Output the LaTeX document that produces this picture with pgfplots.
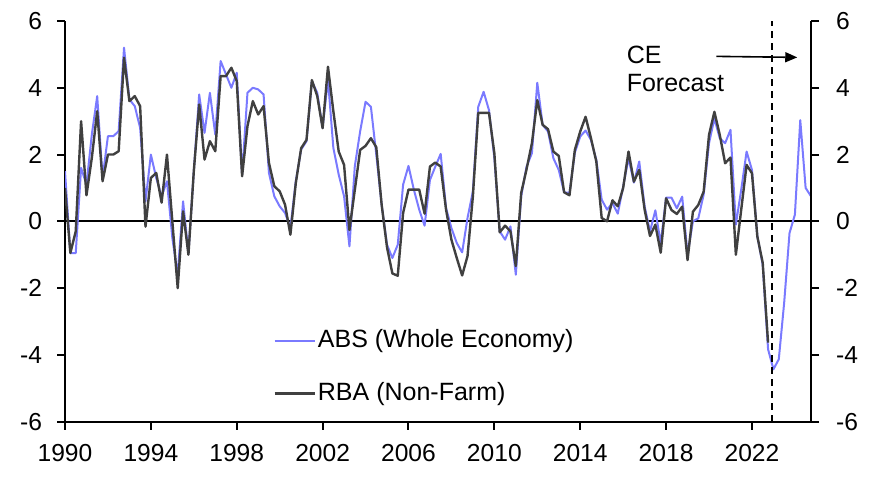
\documentclass[border=0pt]{standalone}
\usepackage{pgfplots}
\pgfplotsset{compat=1.18}
\usepackage{pgfplotstable}
\usepackage{fontspec}
\setmainfont{Liberation Sans}
\usetikzlibrary{arrows.meta}
\definecolor{absblue}{RGB}{122,122,255}
\definecolor{rbagrey}{RGB}{64,64,64}

\pgfplotstableread{
date abs rba
1990.00 1.5 1.0
1990.25 -0.95 -0.95
1990.50 -0.95 -0.3
1990.75 1.6 3.0
1991.00 1.1 0.78
1991.25 2.6 1.9
1991.50 3.75 3.3
1991.75 1.3 1.2
1992.00 2.55 2.0
1992.25 2.55 2.0
1992.50 2.7 2.1
1992.75 5.2 4.9
1993.00 3.65 3.6
1993.25 3.45 3.75
1993.50 2.8 3.45
1993.75 0.6 -0.16
1994.00 2.0 1.3
1994.25 1.3 1.45
1994.50 0.75 0.56
1994.75 1.2 2.0
1995.00 -0.5 0.0
1995.25 -1.6 -2.0
1995.50 0.6 0.3
1995.75 -0.95 -1.0
1996.00 1.5 1.5
1996.25 3.8 3.5
1996.50 2.65 1.85
1996.75 3.85 2.4
1997.00 2.6 2.1
1997.25 4.8 4.35
1997.50 4.4 4.35
1997.75 4.0 4.6
1998.00 4.45 4.2
1998.25 1.4 1.35
1998.50 3.85 2.85
1998.75 4.0 3.6
1999.00 3.95 3.2
1999.25 3.8 3.45
1999.50 1.45 1.75
1999.75 0.75 1.05
2000.00 0.45 0.9
2000.25 0.25 0.5
2000.50 -0.2 -0.4
2000.75 1.2 1.14
2001.00 2.15 2.19
2001.25 2.4 2.44
2001.50 4.2 4.23
2001.75 3.85 3.75
2002.00 2.8 2.79
2002.25 4.25 4.63
2002.50 2.2 3.3
2002.75 1.4 2.09
2003.00 0.75 1.69
2003.25 -0.75 -0.26
2003.50 1.65 0.94
2003.75 2.7 2.14
2004.00 3.58 2.26
2004.25 3.43 2.49
2004.50 2.0 2.22
2004.75 0.5 0.5
2005.00 -0.7 -0.78
2005.25 -1.1 -1.56
2005.50 -0.7 -1.63
2005.75 1.1 0.25
2006.00 1.66 0.95
2006.25 0.95 0.95
2006.50 0.35 0.95
2006.75 -0.13 0.23
2007.00 1.24 1.64
2007.25 1.64 1.76
2007.50 2.02 1.64
2007.75 0.4 0.35
2008.00 -0.2 -0.55
2008.25 -0.65 -1.1
2008.50 -0.93 -1.62
2008.75 0.1 -1.04
2009.00 0.9 0.75
2009.25 3.43 3.25
2009.50 3.88 3.25
2009.75 3.33 3.25
2010.00 1.9 2.04
2010.25 -0.3 -0.33
2010.50 -0.55 -0.13
2010.75 -0.15 -0.3
2011.00 -1.6 -1.34
2011.25 0.75 0.85
2011.50 1.64 1.56
2011.75 2.04 2.34
2012.00 4.15 3.63
2012.25 2.89 2.89
2012.50 2.69 2.76
2012.75 1.89 2.09
2013.00 1.54 1.96
2013.25 0.87 0.87
2013.50 0.85 0.78
2013.75 2.06 2.14
2014.00 2.54 2.69
2014.25 2.72 3.13
2014.50 2.44 2.49
2014.75 1.84 1.79
2015.00 0.65 0.1
2015.25 0.35 0.0
2015.50 0.55 0.63
2015.75 0.23 0.45
2016.00 1.04 1.0
2016.25 1.89 2.09
2016.50 1.16 1.19
2016.75 1.79 1.54
2017.00 0.45 0.35
2017.25 -0.3 -0.44
2017.50 0.33 -0.1
2017.75 -0.66 -0.94
2018.00 0.71 0.69
2018.25 0.71 0.34
2018.50 0.39 0.22
2018.75 0.74 0.44
2019.00 -1.0 -1.16
2019.25 0.0 0.29
2019.50 0.09 0.49
2019.75 0.8 0.89
2020.00 2.34 2.59
2020.25 3.08 3.28
2020.50 2.49 2.59
2020.75 2.34 1.74
2021.00 2.74 1.91
2021.25 -0.1 -1.0
2021.50 0.95 0.35
2021.75 2.09 1.69
2022.00 1.54 1.44
2022.25 -0.45 -0.45
2022.50 -1.3 -1.24
2022.75 -3.83 -3.63
2023.00 -4.43 nan
2023.25 -4.13 nan
2023.50 -2.44 nan
2023.75 -0.35 nan
2024.00 0.2 nan
2024.25 3.03 nan
2024.50 1.0 nan
2024.75 0.75 nan
}\datatable

\begin{document}
\begin{tikzpicture}
\path[use as bounding box] (0,0) rectangle (437.5pt,240pt);
\pgfplotsset{
  common/.style={
    at={(32.5pt,29.15pt)}, anchor=south west,
    scale only axis, width=373pt, height=200.35pt,
    xmin=1990, xmax=2024.75, ymin=-6, ymax=6,
    ytick={-6,-4,-2,0,2,4,6},
    yticklabels={-6,-4,-2,0,2,4,6},
    tick align=outside, major tick length=4pt,
    axis line style={-, line width=1pt, black},
    every tick/.style={black, line width=1pt},
    tick label style={font=\fontsize{12.3}{14}\selectfont},
  }
}
\begin{axis}[common,
  axis x line*=bottom, axis y line*=left,
  xtick={1990,1994,...,2022},
  xticklabels={1990,1994,1998,2002,2006,2010,2014,2018,2022},
  xticklabel style={yshift=-4pt},
  yticklabel style={xshift=-4pt},
  legend style={draw=none, fill=none, at={(0.279,0.136)}, anchor=west,
    inner sep=0pt, row sep=13pt,
    font=\fontsize{12.5}{14}\selectfont,
    nodes={inner sep=1pt, text height=9pt, text depth=2.5pt}},
  legend cell align=left,
  legend image code/.code={\draw[#1] (0pt,0pt) -- (20pt,0pt);},
]
\draw[black, line width=1pt] (axis cs:1990,0) -- (axis cs:2024.75,0);
\addplot[absblue, line width=1pt, line join=round] table[x=date, y=abs] {\datatable};
\addlegendentry{ABS (Whole Economy)}
\addplot[rbagrey, line width=1.2pt, line join=round] table[x=date, y=rba] {\datatable};
\addlegendentry{RBA (Non-Farm)}
\draw[black, line width=0.8pt, dash pattern=on 3.5pt off 2.5pt] (axis cs:2022.93,-6) -- (axis cs:2022.93,6);
\node[anchor=base west, font=\fontsize{12.5}{14}\selectfont, inner sep=0pt] at (axis cs:2016.15,4.73) {CE};
\node[anchor=base west, font=\fontsize{12.5}{14}\selectfont, inner sep=0pt] at (axis cs:2016.15,3.88) {Forecast};
\draw[black, line width=0.8pt, -{Triangle[length=6pt, width=5pt]}] (axis cs:2020.34,4.94) -- (axis cs:2024.11,4.91);
\end{axis}
\begin{axis}[common,
  axis x line=none, axis y line*=right,
  yticklabel style={xshift=5pt},
]
\end{axis}
\end{tikzpicture}
\end{document}
